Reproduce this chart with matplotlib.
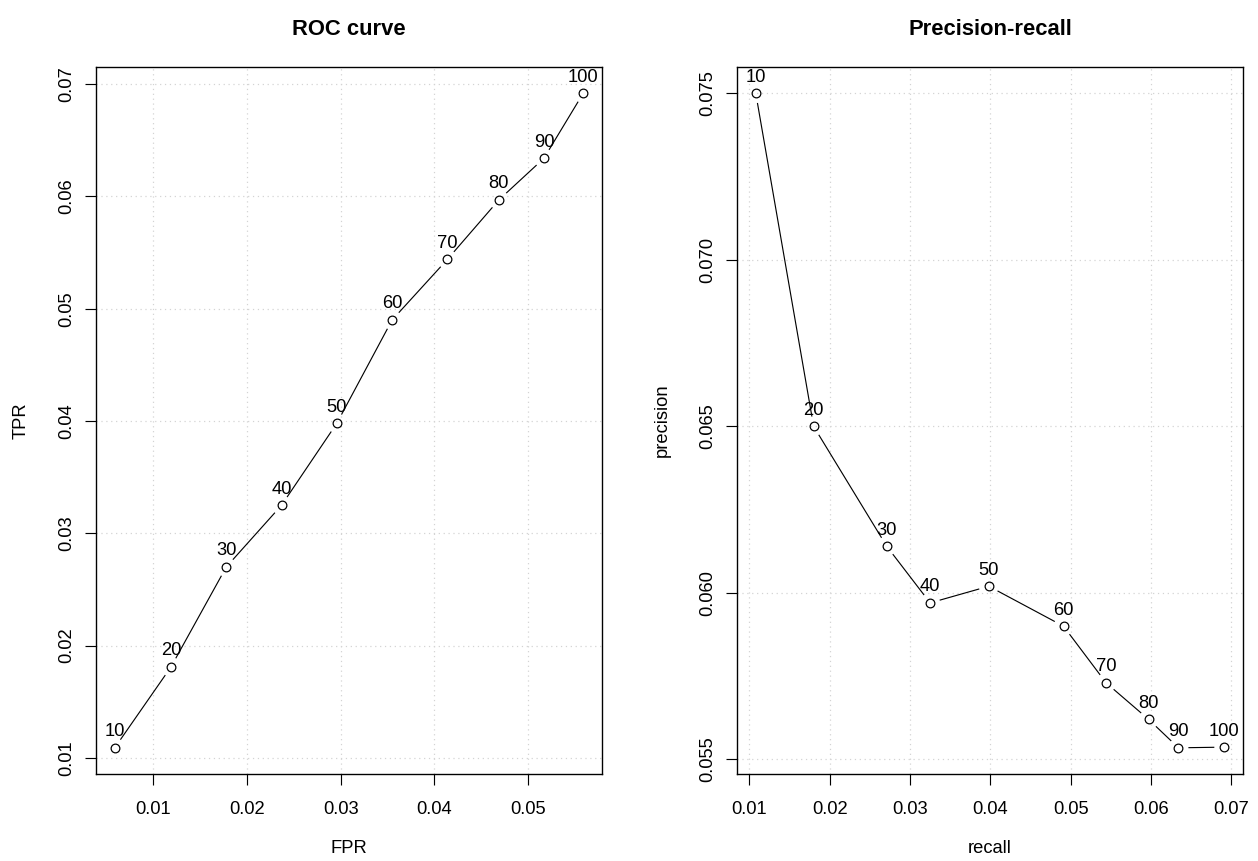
import matplotlib
matplotlib.use("Agg")
import matplotlib.pyplot as plt
import numpy as np
from matplotlib.ticker import FormatStrFormatter

plt.rcParams["font.family"] = ["Liberation Sans", "DejaVu Sans"]

# values, one point per threshold
thresholds = [10, 20, 30, 40, 50, 60, 70, 80, 90, 100]
fpr = [0.0059, 0.0119, 0.0178, 0.0237, 0.0296, 0.0355, 0.0414, 0.0469, 0.0517, 0.0559]
tpr = [0.0109, 0.0181, 0.0270, 0.0325, 0.0398, 0.0490, 0.0544, 0.0597, 0.0634, 0.0692]
recall = [0.0108, 0.0180, 0.0271, 0.0325, 0.0398, 0.0491, 0.0544, 0.0597, 0.0634, 0.0691]
precision = [0.0750, 0.0650, 0.0614, 0.0597, 0.0602, 0.0590, 0.0573, 0.0562, 0.05535, 0.05537]

roc_xticks = [0.01, 0.02, 0.03, 0.04, 0.05]
roc_yticks = [0.01, 0.02, 0.03, 0.04, 0.05, 0.06, 0.07]
pr_xticks = [0.01, 0.02, 0.03, 0.04, 0.05, 0.06, 0.07]
pr_yticks = [0.055, 0.060, 0.065, 0.070, 0.075]

DPI = 110
W, H = 1258, 861


def rect(left, top, right, bottom):
    return [left / W, 1 - bottom / H, (right - left) / W, (bottom - top) / H]


def r_limits(vals):
    lo, hi = min(vals), max(vals)
    pad = 0.04 * (hi - lo)
    return lo - pad, hi + pad


def gapped_line(ax, x, y, gap_px=10.5):
    # R type="b": segments stop short of the points
    trans = ax.transData
    pts = trans.transform(np.column_stack([x, y]))
    inv = trans.inverted()
    for p0, p1 in zip(pts[:-1], pts[1:]):
        d = p1 - p0
        length = np.hypot(d[0], d[1])
        if length <= 2 * gap_px:
            continue
        u = d / length
        seg = inv.transform([p0 + u * gap_px, p1 - u * gap_px])
        ax.plot(seg[:, 0], seg[:, 1], color="black", lw=0.75, zorder=3)


def panel(ax, x, y, title, xlabel, ylabel, xticks, yticks, yfmt, width_px, height_px):
    ax.set_xlim(r_limits(x))
    ax.set_ylim(r_limits(y))
    ax.set_xticks(xticks)
    ax.set_yticks(yticks)
    ax.xaxis.set_major_formatter(FormatStrFormatter("%.2f"))
    ax.yaxis.set_major_formatter(FormatStrFormatter(yfmt))
    ax.grid(True, color="#d3d3d3", linestyle=(0, (1, 3)), linewidth=0.8)
    ax.set_axisbelow(True)
    ax.tick_params(direction="out", length=7.2, width=0.75, labelsize=12, colors="black")
    ax.tick_params(axis="x", pad=10.5)
    ax.tick_params(axis="y", pad=6.5, labelrotation=90)
    for lab in ax.get_yticklabels():
        lab.set_va("center")
    for s in ax.spines.values():
        s.set_linewidth(0.9)
        s.set_color("black")

    gapped_line(ax, x, y)
    ax.plot(x, y, "o", ls="none", mfc="none", mec="black", ms=5.7, mew=0.8, zorder=4)
    for xi, yi, t in zip(x, y, thresholds):
        ax.annotate(str(t), (xi, yi), xytext=(0, 7.6), textcoords="offset points",
                    ha="center", va="baseline", fontsize=12, zorder=5)

    ax.set_title(title, fontsize=14.4, fontweight="bold", pad=20.7)
    ax.set_xlabel(xlabel, fontsize=12)
    ax.xaxis.set_label_coords(0.5, -66 / height_px)
    ax.set_ylabel(ylabel, fontsize=12)
    ax.yaxis.set_label_coords(-66 / width_px, 0.5)


fig = plt.figure(figsize=(W / DPI, H / DPI), dpi=DPI)
ax1 = fig.add_axes(rect(96, 67, 602, 774))
ax2 = fig.add_axes(rect(737, 67, 1243, 774))

panel(ax1, fpr, tpr, "ROC curve", "FPR", "TPR", roc_xticks, roc_yticks, "%.2f", 506, 707)
panel(ax2, recall, precision, "Precision-recall", "recall", "precision",
      pr_xticks, pr_yticks, "%.3f", 506, 707)

fig.savefig("out.png", dpi=DPI)
